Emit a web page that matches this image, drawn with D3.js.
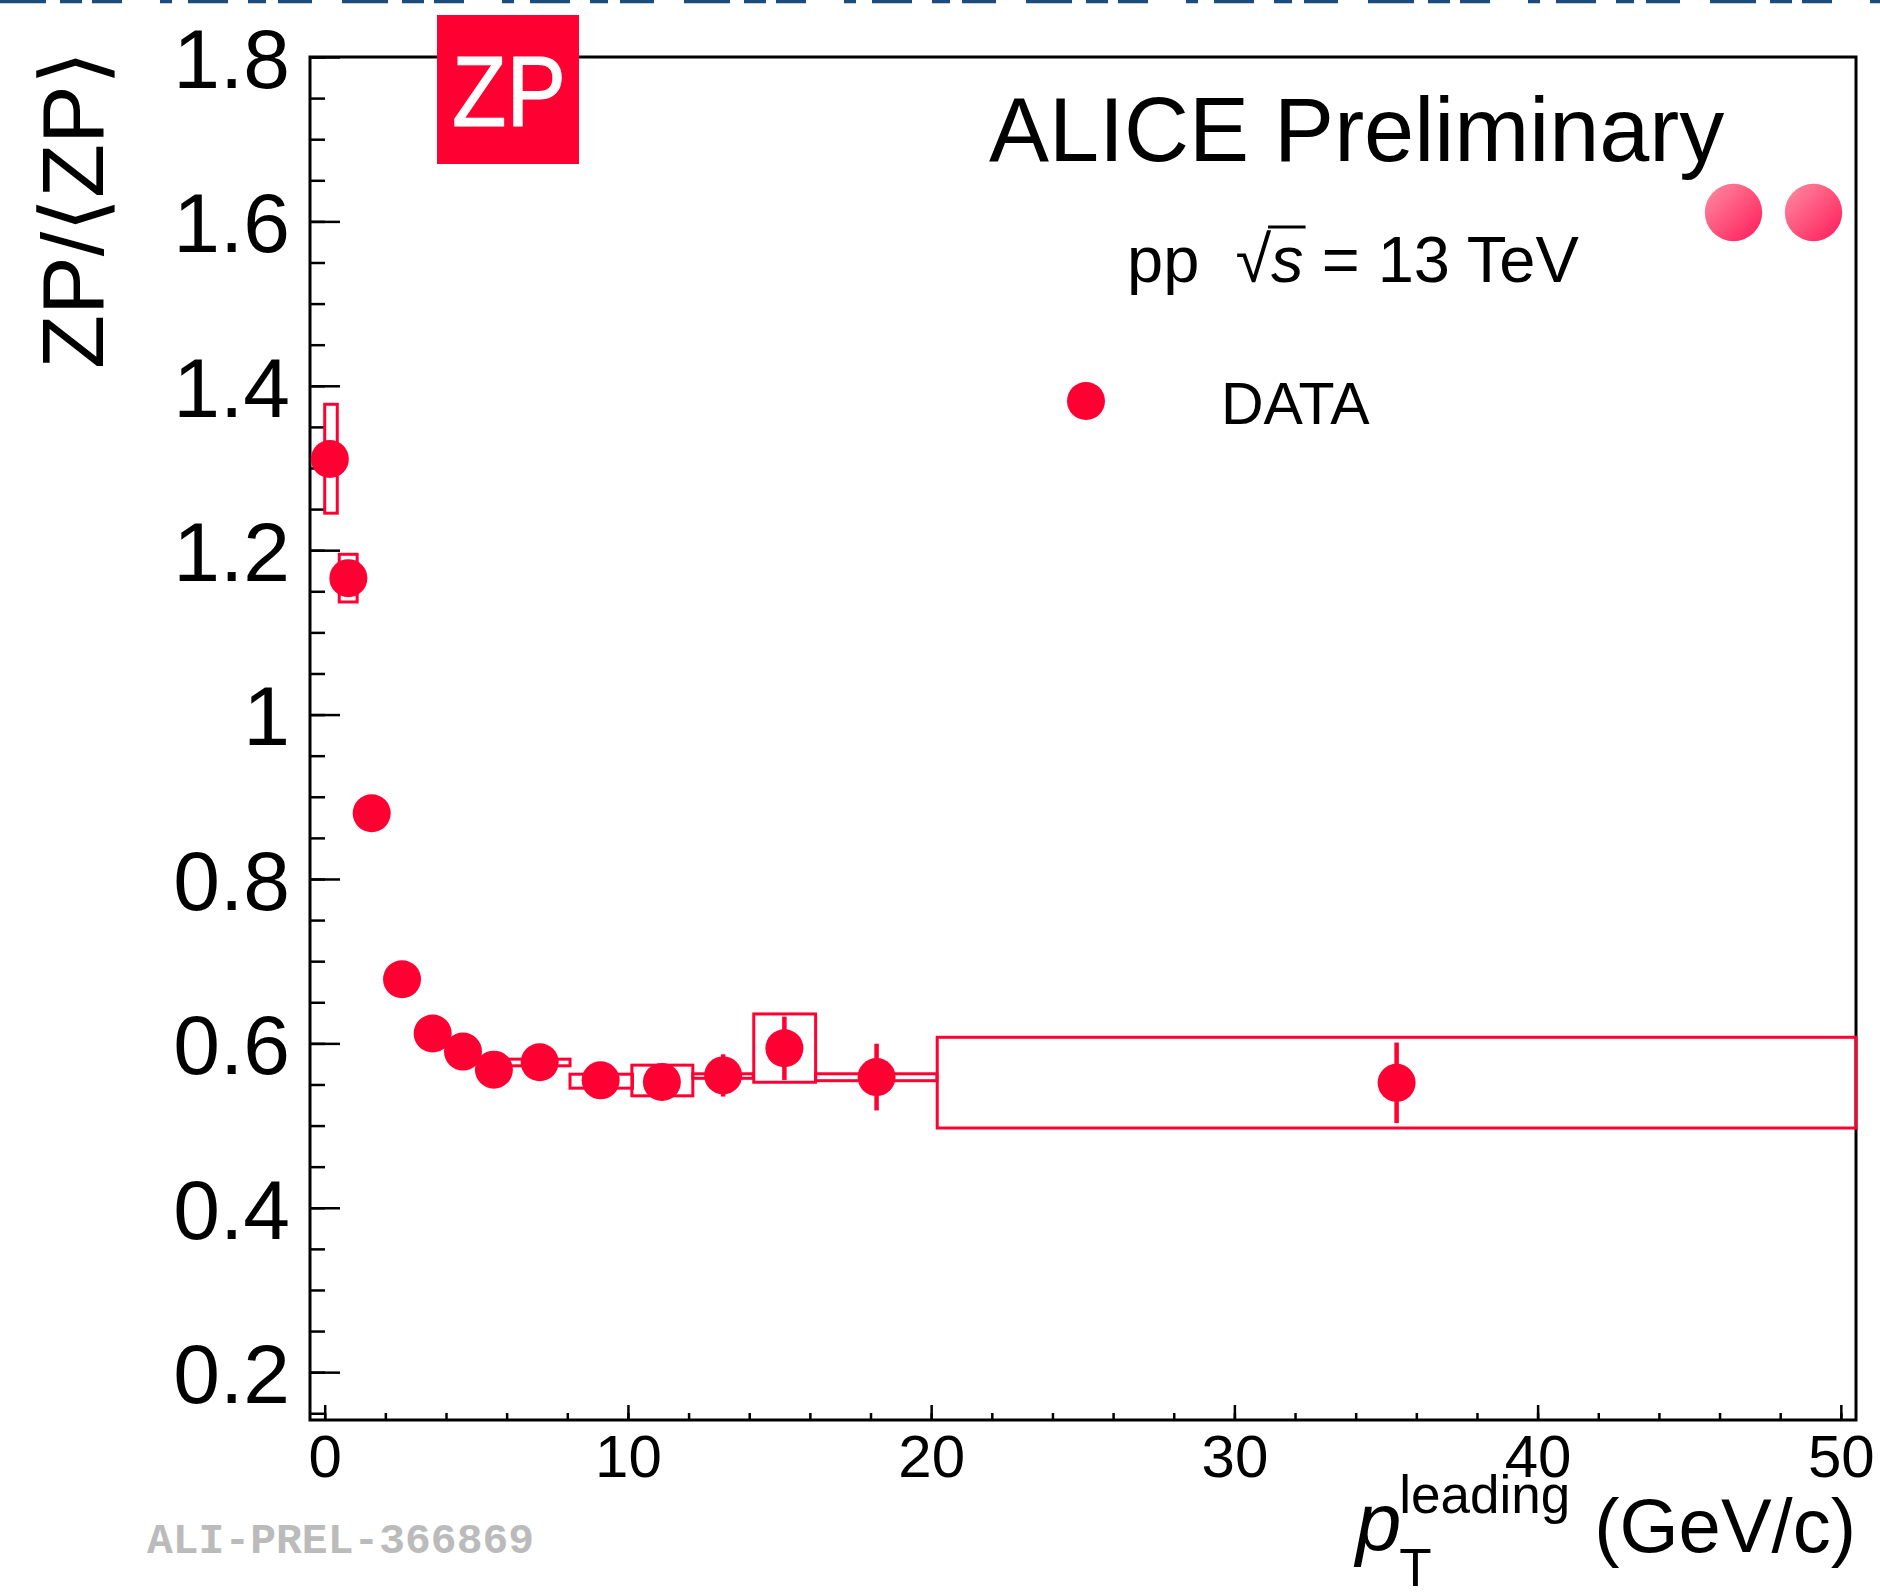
<!DOCTYPE html>
<html>
<head>
<meta charset="utf-8">
<script src="https://cdn.jsdelivr.net/npm/d3@7"></script>
<style>
  html, body { margin: 0; padding: 0; background: #ffffff; }
  svg { display: block; font-family: "Liberation Sans", Arial, Helvetica, sans-serif; }
</style>
</head>
<body>
<script>
// ---------------- data ----------------
const xVals    = [0.17, 0.78, 1.55, 2.55, 3.56, 4.56, 5.58, 7.09, 9.10, 11.12, 13.14, 15.16, 18.20, 35.35];
const yVals    = [1.311, 1.166, 0.880, 0.678, 0.612, 0.590, 0.568, 0.577, 0.555, 0.553, 0.561, 0.594, 0.559, 0.552];
const statErr  = [0.020, 0.015, 0.012, 0.012, 0.012, 0.012, 0.012, 0.012, 0.012, 0.015, 0.0257, 0.0385, 0.0406, 0.049];
const sysLowX  = [0.00, 0.48, 1.10, 2.10, 3.10, 4.10, 5.10, 5.96, 8.09, 10.13, 12.14, 14.15, 16.19, 20.20];
const sysHighX = [0.415, 1.07, 2.00, 3.00, 4.00, 5.00, 6.00, 8.09, 10.15, 12.14, 14.13, 16.19, 20.19, 50.5];
const sysLowY  = [1.245, 1.137, 0.870, 0.668, 0.603, 0.581, 0.560, 0.5727, 0.5455, 0.5362, 0.5575, 0.5527, 0.5546, 0.497];
const sysHighY = [1.3775, 1.195, 0.890, 0.688, 0.621, 0.599, 0.576, 0.5808, 0.5625, 0.5735, 0.563, 0.6358, 0.563, 0.6074];

const yMajorTicks = [0.2, 0.4, 0.6, 0.8, 1.0, 1.2, 1.4, 1.6, 1.8];
const yTickLabels = ["0.2", "0.4", "0.6", "0.8", "1", "1.2", "1.4", "1.6", "1.8"];
const xMajorTicks = [0, 10, 20, 30, 40, 50];
const xTickLabels = ["0", "10", "20", "30", "40", "50"];

const W = 1880, H = 1592;
const RED = "#ff0033";

const svg = d3.select("body").append("svg").attr("width", W).attr("height", H);
svg.append("rect").attr("width", W).attr("height", H).attr("fill", "#ffffff");

// decorative top strip
svg.append("line").attr("x1", 0).attr("x2", W).attr("y1", 1.5).attr("y2", 1.5)
  .attr("stroke", "#1b4c7c").attr("stroke-width", 3.5)
  .attr("stroke-dasharray", "46 14 22 10 30 38 12 16 40 20 18 12 34 30");

// ---------------- scales ----------------
const frame = {l: 310, r: 1856, t: 57, b: 1420};
const x = d3.scaleLinear().domain([-0.485, 50.5]).range([frame.l, frame.r]);
const y = d3.scaleLinear().domain([0.1418, 1.8]).range([frame.b, frame.t]);

// ---------------- axes ----------------
const yMinor = d3.range(0.15, 1.8001, 0.05).map(v => +v.toFixed(2));
const xMinor = d3.range(0, 50.001, 2);

const yAxisMinor = d3.axisLeft(y).tickValues(yMinor).tickSizeInner(-15).tickSizeOuter(0).tickFormat("");
const yAxisMajor = d3.axisLeft(y).tickValues(yMajorTicks).tickSizeInner(-30).tickSizeOuter(0)
  .tickPadding(20).tickFormat((d, i) => yTickLabels[i]);
const xAxisMinor = d3.axisBottom(x).tickValues(xMinor).tickSizeInner(-7).tickSizeOuter(0).tickFormat("");
const xAxisMajor = d3.axisBottom(x).tickValues(xMajorTicks).tickSizeInner(-15).tickSizeOuter(0)
  .tickPadding(14).tickFormat((d, i) => xTickLabels[i]);

function styleAxis(g, fs) {
  g.select(".domain").remove();
  g.selectAll(".tick line").attr("stroke", "#000").attr("stroke-width", 2.5);
  g.selectAll("text").attr("fill", "#000").attr("font-size", fs)
    .attr("font-family", "'Liberation Sans', Arial, sans-serif");
}
svg.append("g").attr("transform", `translate(${frame.l},0)`).call(yAxisMinor).call(g => styleAxis(g, 0));
svg.append("g").attr("transform", `translate(${frame.l},0)`).call(yAxisMajor).call(g => styleAxis(g, 84))
  .selectAll("text").attr("dy", "0.36em");
svg.append("g").attr("transform", `translate(0,${frame.b})`).call(xAxisMinor).call(g => styleAxis(g, 0));
svg.append("g").attr("transform", `translate(0,${frame.b})`).call(xAxisMajor).call(g => styleAxis(g, 60));

// frame
svg.append("rect").attr("x", frame.l).attr("y", frame.t)
  .attr("width", frame.r - frame.l).attr("height", frame.b - frame.t)
  .attr("fill", "none").attr("stroke", "#000").attr("stroke-width", 3);

// ---------------- data marks ----------------
const pts = xVals.map((xv, i) => ({
  x: xv, y: yVals[i], e: statErr[i],
  x0: sysLowX[i], x1: sysHighX[i], y0: sysLowY[i], y1: sysHighY[i]
}));

const gData = svg.append("g");
gData.selectAll("rect.sys").data(pts).enter().append("rect").attr("class", "sys")
  .attr("x", d => x(d.x0)).attr("y", d => y(d.y1))
  .attr("width", d => x(d.x1) - x(d.x0)).attr("height", d => y(d.y0) - y(d.y1))
  .attr("fill", "none").attr("stroke", RED).attr("stroke-width", 3);

gData.selectAll("line.stat").data(pts).enter().append("line").attr("class", "stat")
  .attr("x1", d => x(d.x)).attr("x2", d => x(d.x))
  .attr("y1", d => y(d.y + d.e)).attr("y2", d => y(d.y - d.e))
  .attr("stroke", RED).attr("stroke-width", 4.5);

gData.selectAll("circle.pt").data(pts).enter().append("circle").attr("class", "pt")
  .attr("cx", d => x(d.x)).attr("cy", d => y(d.y)).attr("r", 19).attr("fill", RED);

// ---------------- logo ----------------
svg.append("rect").attr("x", 437).attr("y", 15).attr("width", 142).attr("height", 149).attr("fill", RED);
svg.append("text").attr("x", 452).attr("y", 126).attr("fill", "#fff").attr("stroke", "#fff").attr("stroke-width", 1)
  .attr("font-size", 100)
  .attr("textLength", 114).attr("lengthAdjust", "spacingAndGlyphs").text("ZP");

// pink circles
const defs = svg.append("defs");
const grad = defs.append("linearGradient").attr("id", "pinkGrad")
  .attr("x1", "0%").attr("y1", "0%").attr("x2", "100%").attr("y2", "100%");
grad.append("stop").attr("offset", "0%").attr("stop-color", "#ff8fa2");
grad.append("stop").attr("offset", "100%").attr("stop-color", "#ff1858");
[1733.5, 1813.5].forEach(cx => {
  svg.append("circle").attr("cx", cx).attr("cy", 212.5).attr("r", 28.7).attr("fill", "url(#pinkGrad)");
});

// ---------------- texts ----------------
svg.append("text").attr("x", 989).attr("y", 161).attr("font-size", 90).attr("fill", "#000")
  .text("ALICE Preliminary");

const energy = svg.append("text").attr("x", 1127).attr("y", 282).attr("font-size", 65).attr("fill", "#000");
energy.append("tspan").text("pp\u00a0\u00a0\u221a");
energy.append("tspan").attr("font-style", "italic").text("s");
energy.append("tspan").text(" = 13 TeV");
{
  const node = energy.node();
  const sqEnd = node.getEndPositionOfChar(4).x;
  const sEnd = node.getEndPositionOfChar(5).x;
  svg.append("line").attr("x1", sqEnd - 3).attr("x2", sEnd + 2).attr("y1", 227).attr("y2", 227)
    .attr("stroke", "#000").attr("stroke-width", 3);
}

// legend
svg.append("circle").attr("cx", 1086).attr("cy", 401).attr("r", 19).attr("fill", RED);
svg.append("text").attr("x", 1221).attr("y", 424).attr("font-size", 59).attr("fill", "#000").text("DATA");

// y title
svg.append("text").attr("transform", "translate(103,210) rotate(-90)")
  .attr("text-anchor", "middle").attr("font-size", 88).attr("fill", "#000")
  .text("ZP/\u27e8ZP\u27e9");

// x title
const xt1 = svg.append("text").attr("x", 1856).attr("y", 1552).attr("text-anchor", "end")
  .attr("font-size", 76).attr("fill", "#000").text("(GeV/c)");
const w1 = xt1.node().getComputedTextLength();
const supEnd = 1856 - w1 - 24;
const xt2 = svg.append("text").attr("x", supEnd).attr("y", 1513).attr("text-anchor", "end")
  .attr("font-size", 53).attr("fill", "#000").text("leading");
const w2 = xt2.node().getComputedTextLength();
const pEnd = supEnd - w2;
svg.append("text").attr("x", pEnd + 2).attr("y", 1550).attr("text-anchor", "end")
  .attr("font-size", 82).attr("font-style", "italic").attr("fill", "#000").text("p");
svg.append("text").attr("x", pEnd).attr("y", 1586)
  .attr("font-size", 53).attr("fill", "#000").text("T");

// watermark
svg.append("text").attr("x", 147).attr("y", 1553).attr("font-size", 43).attr("font-weight", "bold")
  .attr("font-family", "'Liberation Mono', 'Courier New', monospace").attr("fill", "#bbbbbb")
  .text("ALI-PREL-366869");
</script>
</body>
</html>
